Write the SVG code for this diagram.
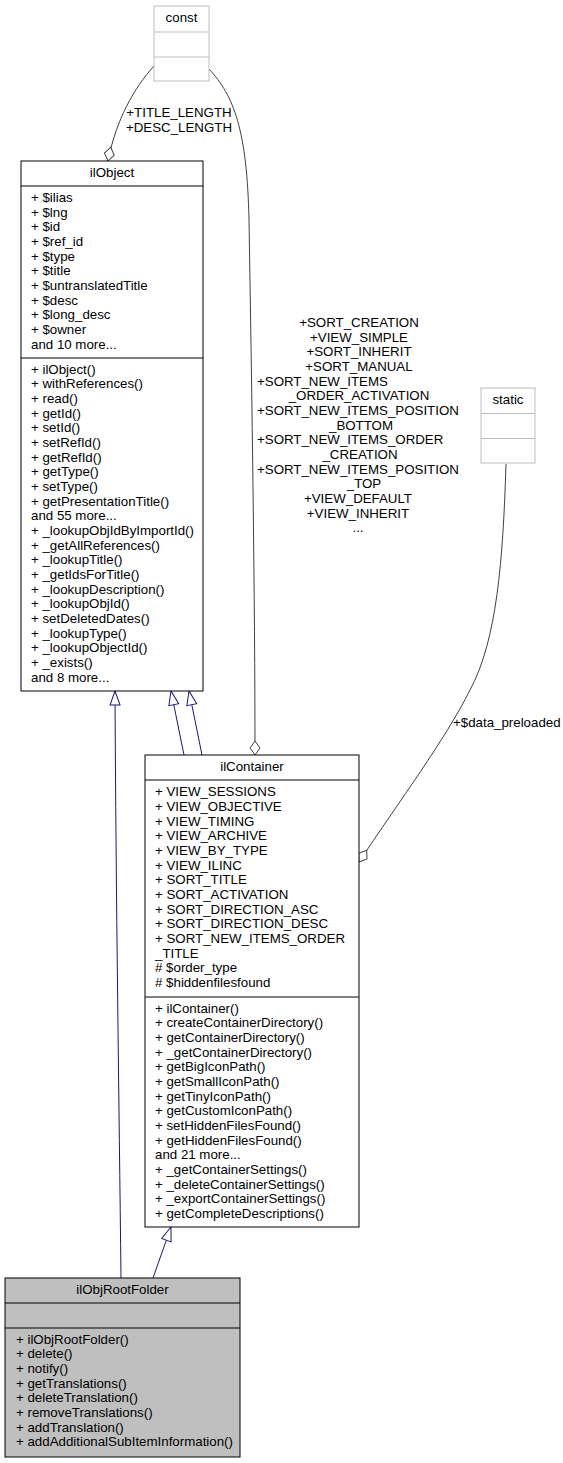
<svg xmlns="http://www.w3.org/2000/svg" width="563" height="1463" viewBox="0 0 563 1463">
<style>
text{font-family:"Liberation Sans",Arial,Helvetica,sans-serif;font-size:13.3px;fill:#000}
.c{text-anchor:middle}
.box{fill:#fff;stroke:#000;stroke-width:1}
.gbox{fill:#fff;stroke:#bfbfbf;stroke-width:1}
.cur{fill:#bfbfbf;stroke:#000;stroke-width:1}
.ln{stroke:#000;stroke-width:1}
.gln{stroke:#bfbfbf;stroke-width:1}
.inh{fill:none;stroke:#191970;stroke-width:1;marker-end:url(#tri)}
.agg{fill:none;stroke:#404040;stroke-width:1;marker-end:url(#dia)}
</style>
<defs>
<marker id="tri" markerUnits="userSpaceOnUse" viewBox="-1 -1 16 12" refX="14" refY="5" markerWidth="16" markerHeight="12" orient="auto">
<path d="M14,5 L0,0 L0,10 Z" fill="#fff" stroke="#191970" stroke-width="1"/>
</marker>
<marker id="dia" markerUnits="userSpaceOnUse" viewBox="-1 -1 16 12" refX="14" refY="5" markerWidth="16" markerHeight="12" orient="auto">
<path d="M0,5 L7,0 L14,5 L7,10 Z" fill="#fff" stroke="#404040" stroke-width="1"/>
</marker>
</defs>
<rect width="563" height="1463" fill="#fff"/>
<g id="connectors">
<path class="agg" d="M154,66 C134,88 116,120 108,161"/>
<text class="c" x="179" y="117">+TITLE_LENGTH</text>
<text class="c" x="179" y="132">+DESC_LENGTH</text>
<path class="agg" d="M209,69 C234,96 247,130 249,220 C252,400 255,600 255,755"/>
<text class="c" x="359" y="327">+SORT_CREATION</text>
<text class="c" x="359" y="341.7">+VIEW_SIMPLE</text>
<text class="c" x="359" y="356.3">+SORT_INHERIT</text>
<text class="c" x="359" y="371">+SORT_MANUAL</text>
<text x="257" y="385.7">+SORT_NEW_ITEMS</text>
<text class="c" x="359" y="400.3">_ORDER_ACTIVATION</text>
<text x="257" y="415">+SORT_NEW_ITEMS_POSITION</text>
<text class="c" x="361" y="429.7">_BOTTOM</text>
<text x="257" y="444.3">+SORT_NEW_ITEMS_ORDER</text>
<text class="c" x="360" y="459">_CREATION</text>
<text x="257" y="473.7">+SORT_NEW_ITEMS_POSITION</text>
<text class="c" x="364" y="488.3">_TOP</text>
<text class="c" x="358" y="503">+VIEW_DEFAULT</text>
<text class="c" x="358" y="517.7">+VIEW_INHERIT</text>
<text class="c" x="358" y="532.3">...</text>
<path class="agg" d="M506,464 C503,560 497,640 470,690 C445,740 400,800 359,862"/>
<text x="453" y="726.5">+$data_preloaded</text>
<path class="inh" d="M121,1278 C119,1100 116,900 115,691"/>
<path class="inh" d="M184,755 L171,691"/>
<path class="inh" d="M202,755 L189,691"/>
<path class="inh" d="M153,1278 L171,1227"/>
</g>
<g id="const">
<rect class="gbox" x="154" y="6" width="55" height="75"/>
<line class="gln" x1="154" y1="32" x2="209" y2="32"/>
<line class="gln" x1="154" y1="57" x2="209" y2="57"/>
<text class="c" x="181.5" y="22">const</text>
</g>
<g id="static">
<rect class="gbox" x="481" y="388" width="54" height="75"/>
<line class="gln" x1="481" y1="413.5" x2="535" y2="413.5"/>
<line class="gln" x1="481" y1="438.5" x2="535" y2="438.5"/>
<text class="c" x="508" y="404">static</text>
</g>
<g id="ilObject">
<rect class="box" x="21" y="161" width="182" height="530"/>
<line class="ln" x1="21" y1="186" x2="203" y2="186"/>
<line class="ln" x1="21" y1="358" x2="203" y2="358"/>
<text class="c" x="112" y="177">ilObject</text>
<text x="31" y="202">+ $ilias</text>
<text x="31" y="216.7">+ $lng</text>
<text x="31" y="231.3">+ $id</text>
<text x="31" y="246">+ $ref_id</text>
<text x="31" y="260.7">+ $type</text>
<text x="31" y="275.3">+ $title</text>
<text x="31" y="290">+ $untranslatedTitle</text>
<text x="31" y="304.7">+ $desc</text>
<text x="31" y="319.3">+ $long_desc</text>
<text x="31" y="334">+ $owner</text>
<text x="31" y="348.7">and 10 more...</text>
<text x="31" y="373.7">+ ilObject()</text>
<text x="31" y="388.4">+ withReferences()</text>
<text x="31" y="403">+ read()</text>
<text x="31" y="417.7">+ getId()</text>
<text x="31" y="432.4">+ setId()</text>
<text x="31" y="447">+ setRefId()</text>
<text x="31" y="461.7">+ getRefId()</text>
<text x="31" y="476.4">+ getType()</text>
<text x="31" y="491">+ setType()</text>
<text x="31" y="505.7">+ getPresentationTitle()</text>
<text x="31" y="520.4">and 55 more...</text>
<text x="31" y="535">+ _lookupObjIdByImportId()</text>
<text x="31" y="549.7">+ _getAllReferences()</text>
<text x="31" y="564.4">+ _lookupTitle()</text>
<text x="31" y="579">+ _getIdsForTitle()</text>
<text x="31" y="593.7">+ _lookupDescription()</text>
<text x="31" y="608.4">+ _lookupObjId()</text>
<text x="31" y="623">+ setDeletedDates()</text>
<text x="31" y="637.7">+ _lookupType()</text>
<text x="31" y="652.4">+ _lookupObjectId()</text>
<text x="31" y="667">+ _exists()</text>
<text x="31" y="681.7">and 8 more...</text>
</g>
<g id="ilContainer">
<rect class="box" x="145" y="755" width="214" height="472"/>
<line class="ln" x1="145" y1="780" x2="359" y2="780"/>
<line class="ln" x1="145" y1="997" x2="359" y2="997"/>
<text class="c" x="252" y="771">ilContainer</text>
<text x="155" y="796.3">+ VIEW_SESSIONS</text>
<text x="155" y="811">+ VIEW_OBJECTIVE</text>
<text x="155" y="825.7">+ VIEW_TIMING</text>
<text x="155" y="840.3">+ VIEW_ARCHIVE</text>
<text x="155" y="855">+ VIEW_BY_TYPE</text>
<text x="155" y="869.7">+ VIEW_ILINC</text>
<text x="155" y="884.3">+ SORT_TITLE</text>
<text x="155" y="899">+ SORT_ACTIVATION</text>
<text x="155" y="913.7">+ SORT_DIRECTION_ASC</text>
<text x="155" y="928.3">+ SORT_DIRECTION_DESC</text>
<text x="155" y="943">+ SORT_NEW_ITEMS_ORDER</text>
<text x="155" y="957.7">_TITLE</text>
<text x="155" y="972.3"># $order_type</text>
<text x="155" y="987"># $hiddenfilesfound</text>
<text x="155" y="1012.5">+ ilContainer()</text>
<text x="155" y="1027.2">+ createContainerDirectory()</text>
<text x="155" y="1041.8">+ getContainerDirectory()</text>
<text x="155" y="1056.5">+ _getContainerDirectory()</text>
<text x="155" y="1071.2">+ getBigIconPath()</text>
<text x="155" y="1085.8">+ getSmallIconPath()</text>
<text x="155" y="1100.5">+ getTinyIconPath()</text>
<text x="155" y="1115.2">+ getCustomIconPath()</text>
<text x="155" y="1129.8">+ setHiddenFilesFound()</text>
<text x="155" y="1144.5">+ getHiddenFilesFound()</text>
<text x="155" y="1159.2">and 21 more...</text>
<text x="155" y="1173.8">+ _getContainerSettings()</text>
<text x="155" y="1188.5">+ _deleteContainerSettings()</text>
<text x="155" y="1203.2">+ _exportContainerSettings()</text>
<text x="155" y="1217.8">+ getCompleteDescriptions()</text>
</g>
<g id="ilObjRootFolder">
<rect class="cur" x="5" y="1278" width="235" height="179"/>
<line class="ln" x1="5" y1="1303" x2="240" y2="1303"/>
<line class="ln" x1="5" y1="1328" x2="240" y2="1328"/>
<text class="c" x="122.5" y="1294">ilObjRootFolder</text>
<text x="16" y="1343.5">+ ilObjRootFolder()</text>
<text x="16" y="1358.2">+ delete()</text>
<text x="16" y="1372.8">+ notify()</text>
<text x="16" y="1387.5">+ getTranslations()</text>
<text x="16" y="1402.2">+ deleteTranslation()</text>
<text x="16" y="1416.8">+ removeTranslations()</text>
<text x="16" y="1431.5">+ addTranslation()</text>
<text x="16" y="1446.2">+ addAdditionalSubItemInformation()</text>
</g>
</svg>
